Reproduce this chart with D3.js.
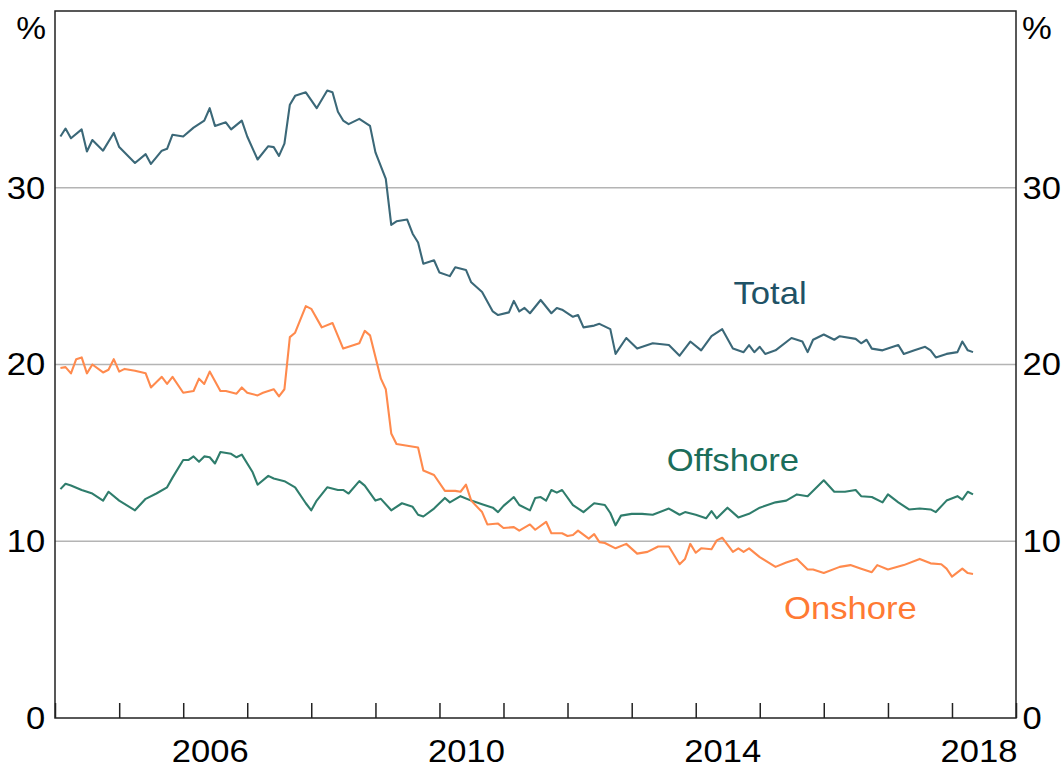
<!DOCTYPE html>
<html>
<head>
<meta charset="utf-8">
<script src="https://cdn.jsdelivr.net/npm/d3@7"></script>
<style>
  body { margin: 0; background: #fff; }
  text { font-family: Arial, "Liberation Sans", sans-serif; }
</style>
</head>
<body>
<div id="chart"></div>
<script>
// monthly shares, per cent
const totalData = [
  ["2004-02",32.9],["2004-03",33.35],["2004-04",32.8],["2004-06",33.3],["2004-07",32.05],["2004-08",32.7],["2004-10",32.1],["2004-12",33.1],
  ["2005-01",32.3],["2005-04",31.4],["2005-06",31.9],["2005-07",31.35],["2005-09",32.1],["2005-10",32.2],["2005-11",33.0],
  ["2006-01",32.9],["2006-03",33.4],["2006-05",33.8],["2006-06",34.5],["2006-07",33.5],["2006-09",33.7],["2006-10",33.3],["2006-12",33.8],
  ["2007-01",32.9],["2007-03",31.6],["2007-05",32.35],["2007-06",32.3],["2007-07",31.8],["2007-08",32.5],["2007-09",34.7],["2007-10",35.2],["2007-12",35.4],
  ["2008-02",34.5],["2008-04",35.5],["2008-05",35.4],["2008-06",34.3],["2008-07",33.8],["2008-08",33.6],["2008-10",33.9],["2008-12",33.5],
  ["2009-01",32.0],["2009-03",30.5],["2009-04",27.9],["2009-05",28.1],["2009-07",28.2],["2009-08",27.4],["2009-09",26.9],["2009-10",25.7],["2009-12",25.9],
  ["2010-01",25.2],["2010-03",25.0],["2010-04",25.5],["2010-06",25.35],["2010-07",24.65],["2010-09",24.1],["2010-11",23.0],["2010-12",22.8],
  ["2011-02",22.95],["2011-03",23.6],["2011-04",23.0],["2011-05",23.2],["2011-06",22.9],["2011-08",23.65],["2011-10",22.9],["2011-11",23.2],["2011-12",23.1],
  ["2012-02",22.7],["2012-03",22.8],["2012-04",22.1],["2012-06",22.2],["2012-07",22.3],["2012-09",22.0],["2012-10",20.6],["2012-12",21.5],
  ["2013-02",20.9],["2013-05",21.2],["2013-08",21.1],["2013-10",20.5],["2013-12",21.3],
  ["2014-02",20.8],["2014-04",21.6],["2014-06",22.0],["2014-08",20.9],["2014-10",20.7],["2014-11",21.1],["2014-12",20.7],
  ["2015-01",21.0],["2015-02",20.6],["2015-04",20.8],["2015-07",21.5],["2015-09",21.3],["2015-10",20.7],["2015-11",21.4],
  ["2016-01",21.7],["2016-03",21.4],["2016-04",21.6],["2016-07",21.45],["2016-08",21.2],["2016-09",21.4],["2016-10",20.9],["2016-12",20.8],
  ["2017-03",21.1],["2017-04",20.6],["2017-06",20.8],["2017-08",21.0],["2017-09",20.8],["2017-10",20.4],["2017-12",20.6],
  ["2018-02",20.7],["2018-03",21.3],["2018-04",20.8],["2018-05",20.7]
];

const onshoreData = [
  ["2004-02",19.8],["2004-03",19.85],["2004-04",19.5],["2004-05",20.3],["2004-06",20.4],["2004-07",19.5],["2004-08",20.0],["2004-10",19.55],["2004-11",19.7],["2004-12",20.3],
  ["2005-01",19.6],["2005-02",19.75],["2005-04",19.65],["2005-06",19.5],["2005-07",18.7],["2005-09",19.3],["2005-10",18.9],["2005-11",19.3],
  ["2006-01",18.4],["2006-03",18.5],["2006-04",19.2],["2006-05",18.9],["2006-06",19.6],["2006-08",18.5],["2006-09",18.5],["2006-11",18.35],["2006-12",18.7],
  ["2007-01",18.4],["2007-03",18.25],["2007-04",18.4],["2007-06",18.6],["2007-07",18.2],["2007-08",18.6],["2007-09",21.55],["2007-10",21.8],["2007-12",23.3],
  ["2008-01",23.15],["2008-03",22.1],["2008-05",22.35],["2008-07",20.9],["2008-08",21.0],["2008-10",21.2],["2008-11",21.9],["2008-12",21.65],
  ["2009-02",19.2],["2009-03",18.6],["2009-04",16.1],["2009-05",15.5],["2009-09",15.3],["2009-10",14.0],["2009-12",13.75],
  ["2010-02",12.85],["2010-04",12.85],["2010-05",12.8],["2010-06",13.2],["2010-07",12.3],["2010-09",11.65],["2010-10",10.95],["2010-12",11.0],
  ["2011-01",10.75],["2011-03",10.8],["2011-04",10.6],["2011-06",10.95],["2011-07",10.65],["2011-09",11.1],["2011-10",10.45],["2011-12",10.45],
  ["2012-01",10.3],["2012-02",10.35],["2012-03",10.6],["2012-05",10.15],["2012-06",10.4],["2012-07",9.95],["2012-08",9.9],["2012-10",9.6],["2012-12",9.85],
  ["2013-02",9.3],["2013-04",9.4],["2013-06",9.7],["2013-08",9.7],["2013-10",8.7],["2013-11",9.0],["2013-12",9.85],
  ["2014-01",9.35],["2014-02",9.6],["2014-04",9.55],["2014-05",10.05],["2014-06",10.2],["2014-08",9.4],["2014-09",9.6],["2014-10",9.4],["2014-11",9.6],
  ["2015-01",9.1],["2015-04",8.55],["2015-06",8.8],["2015-08",9.0],["2015-10",8.4],["2015-11",8.4],
  ["2016-01",8.2],["2016-04",8.55],["2016-06",8.65],["2016-08",8.45],["2016-10",8.25],["2016-11",8.65],
  ["2017-01",8.4],["2017-04",8.65],["2017-07",9.0],["2017-09",8.75],["2017-11",8.7],["2017-12",8.45],
  ["2018-01",8.0],["2018-03",8.45],["2018-04",8.2],["2018-05",8.15]
];

const offshoreData = [
  ["2004-02",12.95],["2004-03",13.25],["2004-04",13.15],["2004-06",12.9],["2004-08",12.7],["2004-10",12.3],["2004-11",12.8],
  ["2005-01",12.3],["2005-04",11.75],["2005-06",12.4],["2005-08",12.7],["2005-10",13.05],["2005-11",13.6],
  ["2006-01",14.6],["2006-02",14.6],["2006-03",14.8],["2006-04",14.5],["2006-05",14.8],["2006-06",14.75],["2006-07",14.4],["2006-08",15.05],["2006-10",14.95],["2006-11",14.75],["2006-12",14.9],
  ["2007-02",13.9],["2007-03",13.2],["2007-05",13.7],["2007-06",13.55],["2007-08",13.4],["2007-10",13.05],["2007-12",12.15],
  ["2008-01",11.75],["2008-02",12.3],["2008-04",13.05],["2008-06",12.9],["2008-07",12.9],["2008-08",12.7],["2008-10",13.4],["2008-11",13.15],
  ["2009-01",12.3],["2009-02",12.4],["2009-04",11.75],["2009-06",12.15],["2009-08",11.95],["2009-09",11.5],["2009-10",11.4],["2009-12",11.85],
  ["2010-02",12.45],["2010-03",12.2],["2010-05",12.55],["2010-07",12.3],["2010-09",12.1],["2010-11",11.9],["2010-12",11.65],
  ["2011-01",12.0],["2011-03",12.5],["2011-04",12.05],["2011-06",11.75],["2011-07",12.45],["2011-08",12.5],["2011-09",12.3],["2011-10",12.9],["2011-11",12.75],["2011-12",12.9],
  ["2012-02",12.05],["2012-04",11.65],["2012-06",12.15],["2012-08",12.05],["2012-09",11.6],["2012-10",10.9],["2012-11",11.45],
  ["2013-01",11.55],["2013-03",11.55],["2013-05",11.5],["2013-08",11.85],["2013-10",11.5],["2013-11",11.65],
  ["2014-01",11.5],["2014-03",11.3],["2014-04",11.7],["2014-05",11.3],["2014-07",11.9],["2014-09",11.35],["2014-11",11.55],
  ["2015-01",11.9],["2015-04",12.2],["2015-06",12.3],["2015-08",12.65],["2015-10",12.55],
  ["2016-01",13.45],["2016-03",12.8],["2016-05",12.8],["2016-07",12.9],["2016-08",12.55],["2016-10",12.5],["2016-12",12.2],
  ["2017-01",12.65],["2017-03",12.2],["2017-05",11.8],["2017-07",11.85],["2017-09",11.8],["2017-10",11.65],["2017-12",12.3],
  ["2018-02",12.55],["2018-03",12.35],["2018-04",12.8],["2018-05",12.65]
];

const yTicks = [0, 10, 20, 30];
const yearLabels = [2006, 2010, 2014, 2018];
const seriesNames = ["Total", "Offshore", "Onshore"];

const width = 1061;
const height = 769;
const margin = {top: 11, right: 45, bottom: 51, left: 55};
const stretch = "scale(1.08,1)"; // reference type is a touch wide

const parseMonth = d3.timeParse("%Y-%m");

const svg = d3.select("#chart")
  .append("svg")
  .attr("width", width)
  .attr("height", height);

const x = d3.scaleTime()
  .domain([new Date(2004, 0, 1), new Date(2019, 0, 1)])
  .range([margin.left, width - margin.right]);

const y = d3.scaleLinear()
  .domain([0, 40])
  .range([height - margin.bottom, margin.top]);

// gridlines
svg.append("g")
  .selectAll("line")
  .data(yTicks.filter(d => d > 0))
  .join("line")
    .attr("x1", margin.left)
    .attr("x2", width - margin.right)
    .attr("y1", d => y(d))
    .attr("y2", d => y(d))
    .attr("stroke", "#b4b4b4")
    .attr("stroke-width", 1.5);

// y labels, both sides
const yAxisL = d3.axisLeft(y).tickValues(yTicks).tickSize(0).tickPadding(9);
const yAxisR = d3.axisRight(y).tickValues(yTicks).tickSize(0).tickPadding(6);

svg.append("g")
  .attr("transform", "translate(" + margin.left + ",0)")
  .call(yAxisL)
  .call(g => g.select(".domain").remove())
  .selectAll("text").attr("font-size", 32).attr("fill", "#000").attr("transform", stretch);

svg.append("g")
  .attr("transform", "translate(" + (width - margin.right) + ",0)")
  .call(yAxisR)
  .call(g => g.select(".domain").remove())
  .selectAll("text").attr("font-size", 32).attr("fill", "#000").attr("transform", stretch);

svg.append("text")
  .attr("transform", "translate(" + (margin.left - 9) + ",39) " + stretch)
  .attr("text-anchor", "end").attr("font-size", 31).text("%");
svg.append("text")
  .attr("transform", "translate(" + (width - margin.right + 6) + ",39) " + stretch)
  .attr("text-anchor", "start").attr("font-size", 31).text("%");

// x axis: year ticks pointing up, labels mid-year
const xAxis = d3.axisBottom(x)
  .ticks(d3.timeYear.every(1))
  .tickSizeInner(-15)
  .tickSizeOuter(0)
  .tickFormat("");

svg.append("g")
  .attr("transform", "translate(0," + (height - margin.bottom) + ")")
  .call(xAxis)
  .call(g => g.select(".domain").remove())
  .call(g => g.selectAll(".tick line").attr("stroke", "#222").attr("stroke-width", 1.5));

svg.append("g")
  .selectAll("text")
  .data(yearLabels)
  .join("text")
    .attr("transform", d => "translate(" + (x(new Date(d, 5, 15)) - 2) + "," + (height - margin.bottom + 44) + ") " + stretch)
    .attr("text-anchor", "middle")
    .attr("font-size", 32)
    .text(d => d);

// lines
const line = d3.line()
  .x(d => x(parseMonth(d[0])))
  .y(d => y(d[1]));

const lines = [
  {data: totalData, color: "#3b6878"},
  {data: offshoreData, color: "#2f7d6c"},
  {data: onshoreData, color: "#ff8a4d"}
];

svg.append("g")
  .selectAll("path")
  .data(lines)
  .join("path")
    .attr("d", d => line(d.data))
    .attr("fill", "none")
    .attr("stroke", d => d.color)
    .attr("stroke-width", 2.1)
    .attr("stroke-linejoin", "round");

// series labels
const labelPos = [
  {date: new Date(2015, 2, 1), value: 23.45, color: "#1f5266"},
  {date: new Date(2014, 7, 1), value: 13.95, color: "#1b6d5a"},
  {date: new Date(2016, 5, 1), value: 5.6, color: "#ff7a33"}
];

svg.append("g")
  .selectAll("text")
  .data(seriesNames)
  .join("text")
    .attr("transform", (d, i) => "translate(" + x(labelPos[i].date) + "," + y(labelPos[i].value) + ") scale(1.1,1)")
    .attr("text-anchor", "middle")
    .attr("font-size", 31.5)
    .attr("fill", (d, i) => labelPos[i].color)
    .text(d => d);

// frame
svg.append("rect")
  .attr("x", margin.left)
  .attr("y", margin.top)
  .attr("width", width - margin.left - margin.right)
  .attr("height", height - margin.top - margin.bottom)
  .attr("fill", "none")
  .attr("stroke", "#222")
  .attr("stroke-width", 1.5);
</script>
</body>
</html>
